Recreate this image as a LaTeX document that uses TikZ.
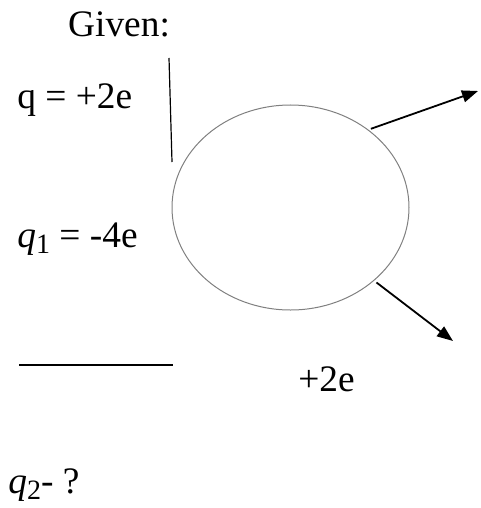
\documentclass[tikz,border=0pt]{standalone}
\usepackage{fontspec}
\setmainfont{Liberation Serif}
\usetikzlibrary{shapes.geometric,arrows.meta}
\newcommand{\qsub}[1]{\textit{q}\raisebox{-0.35ex}{\fontsize{14}{16}\selectfont #1}}
\begin{document}
\begin{tikzpicture}[x=0.5pt, y=-0.5pt,
    lbl/.style={font=\fontsize{18.7}{22}\selectfont, inner sep=0pt},
    pull/.style={line width=0.9pt, -{Triangle[length=8pt, width=6pt]}}]
    \useasboundingbox (0,0) rectangle (481,508);
    % labels
    \node[lbl, anchor=base] (given) at (119,37) {Given:};
    \node[lbl, anchor=base west] (q) at (17,109) {q = +2e};
    \node[lbl, anchor=base west] (qone) at (17,247) {\qsub{1} = -4e};
    \node[lbl, anchor=base west] (plus) at (298,391) {+2e};
    \node[lbl, anchor=base west] (qtwo) at (8,493) {\qsub{2}- ?};
    % divider lines
    \coordinate (vtop) at (169,58);
    \coordinate (vbot) at (172,162);
    \draw[line width=0.6pt] (vtop) -- (vbot);
    \coordinate (hl) at (19,365);
    \coordinate (hr) at (173,365);
    \draw[line width=0.6pt] (hl) -- (hr);
    % body
    \node[draw=gray, line width=0.5pt, ellipse, inner sep=0pt,
          minimum width=118.5pt, minimum height=102.5pt] (body) at (290.5,207.5) {};
    % arrows
    \coordinate (tipa) at (478,91);
    \coordinate (tipb) at (453,341);
    \draw[pull] (body.44) ++(1,-2) -- (tipa);
    \draw[pull] (body.-41) ++(2,2) -- (tipb);
\end{tikzpicture}
\end{document}
